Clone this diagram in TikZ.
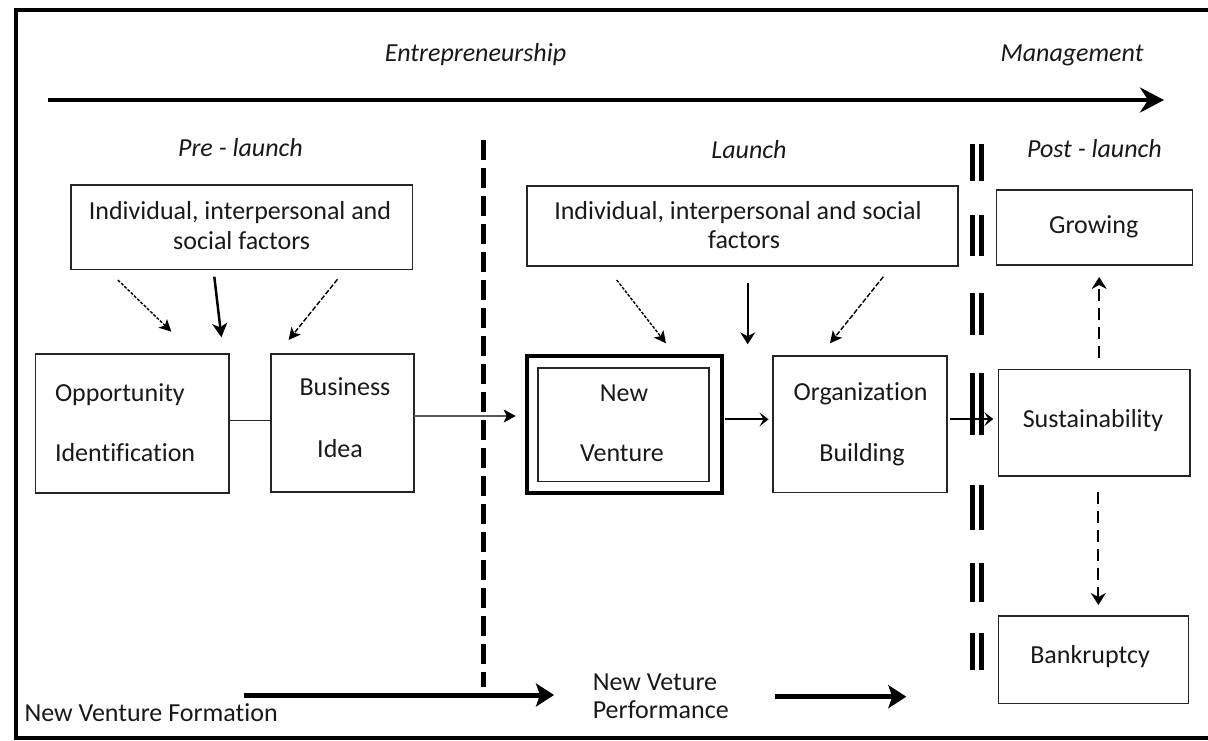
\documentclass[tikz,border=0pt]{standalone}
\usepackage{fontspec}
\setmainfont{Carlito}[Ligatures=NoCommon]
\usetikzlibrary{arrows.meta}
\tikzset{
  box/.style={draw=black!85, line width=1.3pt, inner sep=0pt, outer sep=0pt},
  txt/.style={anchor=base, inner sep=0pt, outer sep=0pt, text=black!90, font=\fontsize{26}{31}\selectfont},
  ltxt/.style={txt, anchor=base west},
  itxt/.style={txt, font=\fontsize{26}{31}\selectfont\itshape},
  thinhead/.style={-{Stealth[length=12pt,width=12pt,inset=3pt]}},
  dottedline/.style={line width=1.4pt, dash pattern=on 3pt off 1.5pt},
  dashline/.style={line width=1.4pt, dash pattern=on 5pt off 2pt},
  bigarrow/.style={line width=5pt, -{Stealth[length=18pt,width=23pt,inset=4pt]}},
  bars/.style={line width=5pt},
}
\begin{document}
\begin{tikzpicture}[x=1pt,y=-1pt]
\useasboundingbox (0,0) rectangle (1208,740);
% frame
\draw[line width=4pt, line join=miter] (1212,10.3) -- (15.5,10.3) -- (15.5,738) -- (1212,738);

% top timeline
\coordinate (tl1) at (48,100);
\coordinate (tl2) at (1164,100);
\draw[line width=4.5pt, -{Stealth[length=24pt,width=25pt,inset=8pt]}] (tl1) -- (tl2);
\node[itxt] (ent) at (475.5,61.7) {Entrepreneurship};
\node[itxt] (man) at (1072,61.7) {Management};

% phase labels
\node[itxt] (pre) at (240.5,156.7) {Pre - launch};
\node[itxt] (lau) at (749,158) {Launch};
\node[itxt] (post) at (1094.5,157) {Post - launch};

% dashed separator
\coordinate (sep1) at (483.5,140);
\coordinate (sep2) at (483.5,687);
\draw[line width=5pt, dash pattern=on 20pt off 8pt] (sep1) -- (sep2);

% double bars
\foreach \a/\b in {144/181,215/256,293/335,373/435,485/530,563/602,633/670}{
  \draw[bars] (972,\a) -- (972,\b);
  \draw[bars] (981.5,\a) -- (981.5,\b);
}

% boxes
\node[box, minimum width=341.5pt, minimum height=84.3pt] (f1) at (241.75,227.15) {};
\node[box, minimum width=431pt, minimum height=80pt] (f2) at (742.5,226) {};
\node[box, minimum width=193.3pt, minimum height=139pt] (oi) at (132.35,423.5) {};
\node[box, minimum width=143pt, minimum height=138pt] (bi) at (342.5,423) {};
\node[box, draw=black, line width=4.3pt, minimum width=195.3pt, minimum height=137.3pt] (nv) at (624.35,424.65) {};
\node[box, minimum width=171pt, minimum height=113.7pt] (nvi) at (623.5,424.85) {};
\node[box, minimum width=174pt, minimum height=136.7pt] (ob) at (860,424.35) {};
\node[box, minimum width=195.6pt, minimum height=75pt] (gr) at (1094.5,227.5) {};
\node[box, minimum width=191.7pt, minimum height=106.7pt] (su) at (1094.15,422.65) {};
\node[box, minimum width=190pt, minimum height=87.3pt] (bk) at (1093.3,659.65) {};

% box texts
\node[txt] (f1a) at (240,219) {Individual, interpersonal and};
\node[txt] (f1b) at (241.7,249) {social factors};
\node[txt] (f2a) at (738,219) {Individual, interpersonal and social};
\node[txt] (f2b) at (744,248) {factors};
\node[ltxt] (oia) at (55,401) {Opportunity};
\node[ltxt] (oib) at (55,461) {Identification};
\node[txt] (bia) at (345,395) {Business};
\node[txt] (bib) at (340,457) {Idea};
\node[txt] (nva) at (624,401.7) {New};
\node[txt] (nvb) at (622,461.7) {Venture};
\node[txt] (oba) at (860.5,400) {Organization};
\node[txt] (obb) at (862,461.7) {Building};
\node[txt] (grt) at (1093.7,233) {Growing};
\node[txt] (sut) at (1093,427) {Sustainability};
\node[txt] (bkt) at (1090,663.3) {Bankruptcy};

% factor arrows (left)
\coordinate (a1s) at (117.9,280);   \coordinate (a1e) at (171.4,331.7);
\coordinate (a2s) at (214.3,276.7); \coordinate (a2e) at (221.4,337.3);
\coordinate (a3s) at (337.5,279.3); \coordinate (a3e) at (288.6,340);
\draw[dottedline, thinhead] (a1s) -- (a1e);
\draw[line width=2.5pt, -{Stealth[length=14pt,width=15pt,inset=4pt]}] (a2s) -- (a2e);
\draw[dashline, thinhead] (a3s) -- (a3e);
% factor arrows (right)
\coordinate (b1s) at (616.7,280);   \coordinate (b1e) at (666,343.3);
\coordinate (b2s) at (747.7,283.3); \coordinate (b2e) at (747.7,344.3);
\coordinate (b3s) at (883.3,276.7); \coordinate (b3e) at (830,343.3);
\draw[dottedline, thinhead] (b1s) -- (b1e);
\draw[line width=1.8pt, -{Stealth[length=12pt,width=15pt,inset=4pt]}] (b2s) -- (b2e);
\draw[dashline, thinhead] (b3s) -- (b3e);

% connectors between boxes
\draw[line width=1.3pt, black!85] ([yshift=3pt]oi.east) -- ([yshift=3pt]oi.east -| bi.west);
\draw[line width=1.2pt, black!65, -{Stealth[length=12pt,width=13pt,inset=3pt,black]}, shorten >=11pt]
  ([yshift=7pt]bi.east) -- ([yshift=7pt]bi.east -| nv.west);
\draw[line width=2.2pt, -{Stealth[length=9pt,width=14pt,inset=4pt]}, shorten <=3pt, shorten >=4.5pt]
  ([yshift=5.3pt]nv.east) -- ([yshift=5.3pt]nv.east -| ob.west);
\draw[line width=2.2pt, -{Stealth[length=9pt,width=14pt,inset=4pt]}, shorten <=3pt, shorten >=5pt]
  ([yshift=5.3pt]ob.east) -- ([yshift=5.3pt]ob.east -| su.west);
\draw[line width=2pt, dash pattern=on 12pt off 7pt, -{Stealth[length=12pt,width=15pt,inset=4pt]}, shorten <=11pt, shorten >=12pt]
  ([xshift=5pt]su.north) -- ([xshift=5pt]su.north |- gr.south);
\draw[line width=2pt, dash pattern=on 12pt off 7pt, -{Stealth[length=12pt,width=15pt,inset=4pt]}, shorten <=15.7pt, shorten >=11pt]
  ([xshift=4.2pt]su.south) -- ([xshift=4.2pt]su.south |- bk.north);

% bottom
\node[ltxt] (nvf) at (24.5,721) {New Venture Formation};
\node[ltxt] (nvp1) at (592.8,690) {New Veture};
\node[ltxt] (nvp2) at (592.8,718) {Performance};
\coordinate (c1s) at (243.7,695); \coordinate (c1e) at (554,695);
\coordinate (c2s) at (774.6,696.7); \coordinate (c2e) at (906.3,696.7);
\draw[bigarrow] (c1s) -- (c1e);
\draw[bigarrow] (c2s) -- (c2e);
\end{tikzpicture}
\end{document}
